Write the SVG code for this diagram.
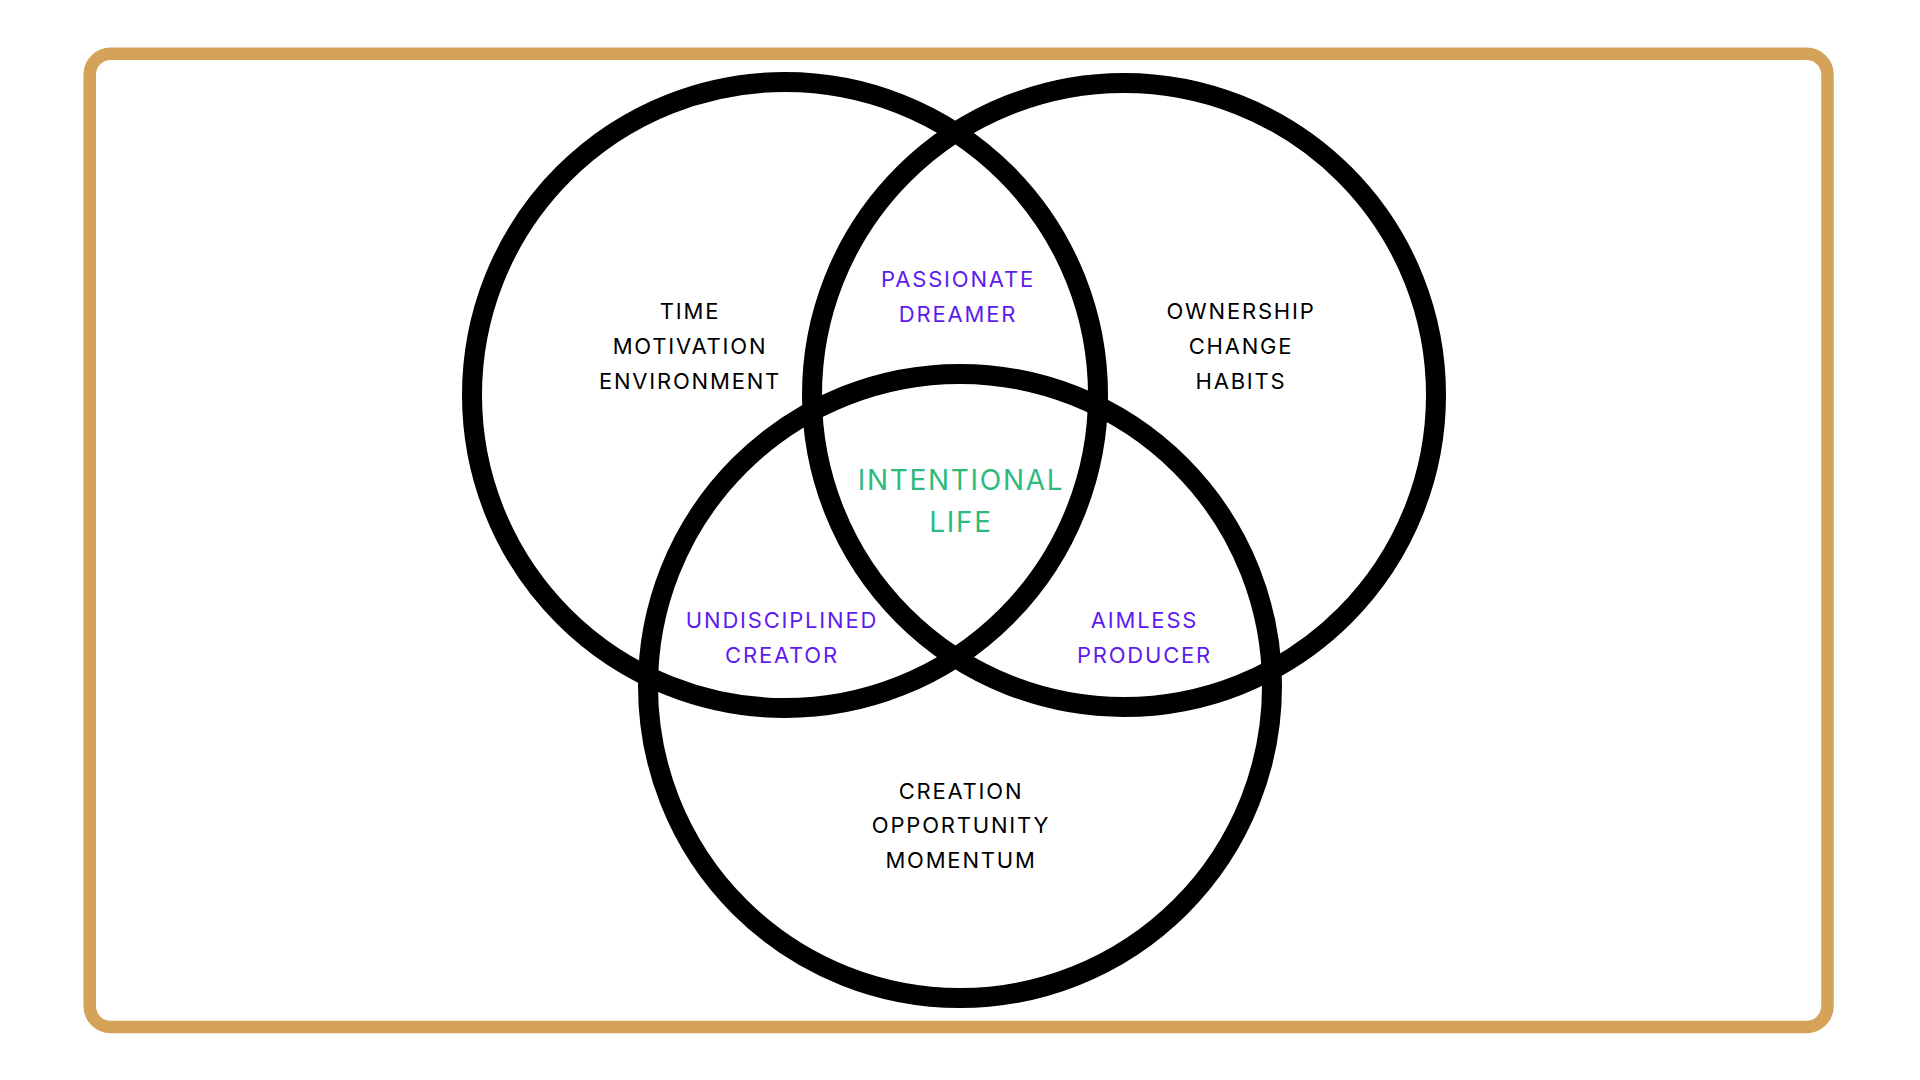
<svg xmlns="http://www.w3.org/2000/svg" width="1920" height="1080" viewBox="0 0 1920 1080">
<style>
.ring{fill:none;stroke:#000;stroke-width:20}
.t{font-family:Inter,"Liberation Sans",sans-serif;font-size:22px;letter-spacing:1.8px;text-anchor:middle}
.k{fill:#000}
.p{fill:#5E1BEE}
.g{fill:#2DBA7C;font-size:28px;letter-spacing:1.7px}
</style>
<rect width="1920" height="1080" fill="#fff"/>
<rect id="frame" x="89.7" y="53.7" width="1737.8" height="973.3" rx="21" fill="none" stroke="#D5A25A" stroke-width="12.6"/>
<g id="circle-left"><circle class="ring" cx="785" cy="395" r="313"/></g>
<g id="circle-right"><circle class="ring" cx="1124" cy="395" r="312"/></g>
<g id="circle-bottom"><circle class="ring" cx="960" cy="686" r="312"/></g>
<g id="connectors"></g>
<g id="label-left" class="t k">
<text x="690" y="318.7">TIME</text>
<text x="690" y="354">MOTIVATION</text>
<text x="690" y="389">ENVIRONMENT</text>
</g>
<g id="label-right" class="t k">
<text x="1241" y="318.7">OWNERSHIP</text>
<text x="1241" y="354">CHANGE</text>
<text x="1241" y="389">HABITS</text>
</g>
<g id="label-bottom" class="t k">
<text x="961" y="799.3">CREATION</text>
<text x="961" y="833.3">OPPORTUNITY</text>
<text x="961" y="868.3">MOMENTUM</text>
</g>
<g id="label-top" class="t p">
<text x="958" y="287.3">PASSIONATE</text>
<text x="958" y="322">DREAMER</text>
</g>
<g id="label-lower-left" class="t p">
<text x="782" y="628.3">UNDISCIPLINED</text>
<text x="782" y="663.3">CREATOR</text>
</g>
<g id="label-lower-right" class="t p">
<text x="1144.5" y="628.3">AIMLESS</text>
<text x="1144.5" y="663.3">PRODUCER</text>
</g>
<g id="label-center" class="t g">
<text x="961" y="490">INTENTIONAL</text>
<text x="961" y="531.7">LIFE</text>
</g>
</svg>
